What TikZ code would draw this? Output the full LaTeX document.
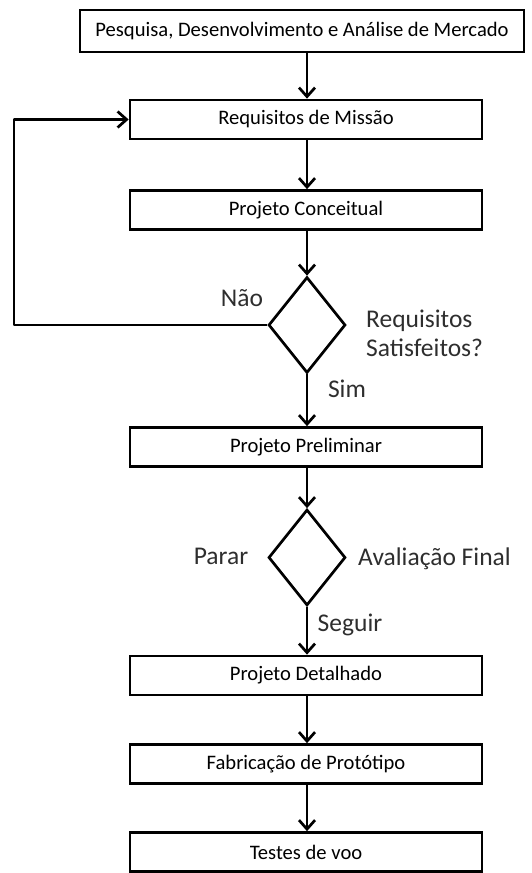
\documentclass[tikz,border=0pt]{standalone}
\usepackage{fontspec}
\setmainfont{Carlito}
\usetikzlibrary{shapes.geometric,arrows.meta}
\begin{document}
\begin{tikzpicture}[x=1pt,y=-1pt,
  stepbox/.style={draw,line width=2.7pt,rectangle,minimum width=352pt,minimum height=39pt,inner sep=0pt,font=\fontsize{20.6}{24}\selectfont},
  decision/.style={draw,line width=2.7pt,diamond,minimum width=77pt,minimum height=96pt,inner sep=0pt},
  lbl/.style={font=\fontsize{25.5}{29}\selectfont,text=black!82,inner sep=0pt},
  arr/.style={line width=2.7pt,-{Straight Barb[length=9pt,width=16pt,line width=2.7pt]}}]
\useasboundingbox (0,0) rectangle (531,873);
\node[stepbox,minimum width=444pt,minimum height=42pt] (pesq) at (302,31) {Pesquisa, Desenvolvimento e Análise de Mercado};
\node[stepbox] (req) at (306,119.5) {Requisitos de Missão};
\node[stepbox] (conc) at (306,210) {Projeto Conceitual};
\node[decision] (d1) at (307,325) {};
\node[stepbox] (prel) at (306,447) {Projeto Preliminar};
\node[decision] (d2) at (307,557.5) {};
\node[stepbox] (det) at (306,675.5) {Projeto Detalhado};
\node[stepbox] (fab) at (306,764) {Fabricação de Protótipo};
\node[stepbox] (test) at (306,852) {Testes de voo};
\coordinate (c1) at (14,325);
\coordinate (c2) at (14,119.5);
\draw[arr] (pesq.south -| d1) -- (req.north -| d1);
\draw[arr] (req.south -| d1) -- (conc.north -| d1);
\draw[arr] (conc.south -| d1) -- (d1.north);
\draw[arr] (d1.south) -- (prel.north -| d1);
\draw[arr] (prel.south -| d1) -- (d2.north);
\draw[arr] (d2.south) -- (det.north -| d1);
\draw[arr] (det.south -| d1) -- (fab.north -| d1);
\draw[arr] (fab.south -| d1) -- (test.north -| d1);
\draw[arr,line join=round] (d1.west) -- (c1) -- (c2) -- (req.west);
\node[lbl] (nao) at (242,298) {Não};
\node[lbl,anchor=west,align=left] (rs) at (366,333) {Requisitos\\Satisfeitos?};
\node[lbl] (sim) at (347,389) {Sim};
\node[lbl] (parar) at (221,556) {Parar};
\node[lbl,anchor=west] (aval) at (358,559) {Avaliação Final};
\node[lbl] (seg) at (350,625) {Seguir};
\end{tikzpicture}
\end{document}
